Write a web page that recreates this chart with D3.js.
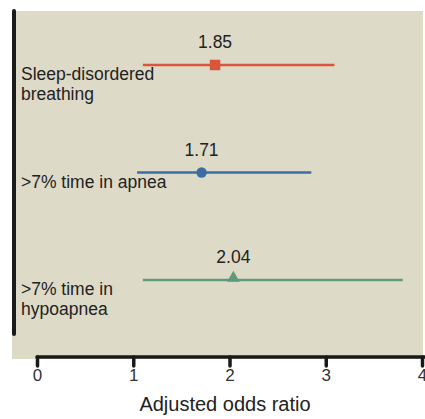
<!DOCTYPE html>
<html>
<head>
<meta charset="utf-8">
<script src="https://cdn.jsdelivr.net/npm/d3@7"></script>
<style>
  html, body { margin: 0; padding: 0; background: #ffffff; }
  svg { display: block; font-family: "Liberation Sans", Arial, sans-serif; }
</style>
</head>
<body>
<svg id="chart" width="425" height="419"></svg>
<script>
// Adjusted odds ratios with 95% confidence intervals
const categories = ["Sleep-disordered breathing", ">7% time in apnea", ">7% time in hypoapnea"];
const labelLines = [["Sleep-disordered", "breathing"], [">7% time in apnea"], [">7% time in", "hypoapnea"]];
const oddsRatios = [1.85, 1.71, 2.04];
const lowerCI = [1.10, 1.04, 1.10];
const upperCI = [3.09, 2.85, 3.80];
const markerShapes = ["square", "circle", "triangle"];
const colors = ["#d9553b", "#3c6ca3", "#5f9a7a"];
const xTicks = [0, 1, 2, 3, 4];
const xTitle = "Adjusted odds ratio";

const svg = d3.select("#chart");

const x = d3.scaleLinear().domain([0, 4]).range([37, 422]);
const y = d3.scalePoint().domain(categories).range([65, 280]);

// panel background
svg.append("rect")
  .attr("x", 12).attr("y", 11)
  .attr("width", 411).attr("height", 348)
  .attr("fill", "#dedac8");

// left vertical rule
svg.append("line")
  .attr("x1", 14).attr("x2", 14)
  .attr("y1", 11).attr("y2", 334)
  .attr("stroke", "#1a1a1a").attr("stroke-width", 4)
  .attr("stroke-linecap", "round");

// x axis
const xAxis = svg.append("g")
  .attr("transform", "translate(0,357)")
  .call(d3.axisBottom(x).tickValues(xTicks).tickFormat(d3.format("d")).tickSize(9).tickPadding(3));
xAxis.select(".domain")
  .attr("stroke", "#1a1a1a").attr("stroke-width", 3.5)
  .attr("d", `M${x(0)},0H${x(4) + 3}`)
  .attr("stroke-linecap", "round");
xAxis.selectAll(".tick line")
  .attr("stroke", "#1a1a1a").attr("stroke-width", 3.5)
  .attr("stroke-linecap", "round");
xAxis.selectAll(".tick text")
  .attr("fill", "#333").attr("font-size", 17)
  .attr("font-family", "Liberation Sans, Arial, sans-serif");

svg.append("text")
  .attr("x", 225).attr("y", 411)
  .attr("text-anchor", "middle")
  .attr("font-size", 20).attr("fill", "#222")
  .text(xTitle);

const rows = categories.map((c, i) => ({
  cat: c, lines: labelLines[i], or: oddsRatios[i], lo: lowerCI[i], hi: upperCI[i],
  shape: markerShapes[i], color: colors[i]
}));

const g = svg.append("g");

// confidence interval lines
g.selectAll("line.ci").data(rows).join("line")
  .attr("class", "ci")
  .attr("x1", d => x(d.lo)).attr("x2", d => x(d.hi))
  .attr("y1", d => y(d.cat)).attr("y2", d => y(d.cat))
  .attr("stroke", d => d.color).attr("stroke-width", 2.5);

// point estimates
const symbolType = { square: d3.symbolSquare, circle: d3.symbolCircle, triangle: d3.symbolTriangle };
const symbolSize = { square: 110, circle: 85, triangle: 70 };
g.selectAll("path.pt").data(rows).join("path")
  .attr("class", "pt")
  .attr("d", d => d3.symbol(symbolType[d.shape], symbolSize[d.shape])())
  .attr("transform", d => `translate(${x(d.or)},${y(d.cat) + (d.shape === "triangle" ? -2 : 0)})`)
  .attr("fill", d => d.color);

// value labels
g.selectAll("text.val").data(rows).join("text")
  .attr("class", "val")
  .attr("x", d => x(d.or)).attr("y", d => y(d.cat) - 17)
  .attr("text-anchor", "middle")
  .attr("font-size", 17.5).attr("fill", "#222")
  .text(d => d.or.toFixed(2));

// category labels
const lab = g.selectAll("text.cat").data(rows).join("text")
  .attr("class", "cat")
  .attr("x", 21).attr("y", d => y(d.cat) + 15)
  .attr("font-size", 17.5).attr("fill", "#222");
lab.selectAll("tspan").data(d => d.lines).join("tspan")
  .attr("x", 21).attr("dy", (d, i) => i === 0 ? 0 : 19.5)
  .text(d => d);
</script>
</body>
</html>
